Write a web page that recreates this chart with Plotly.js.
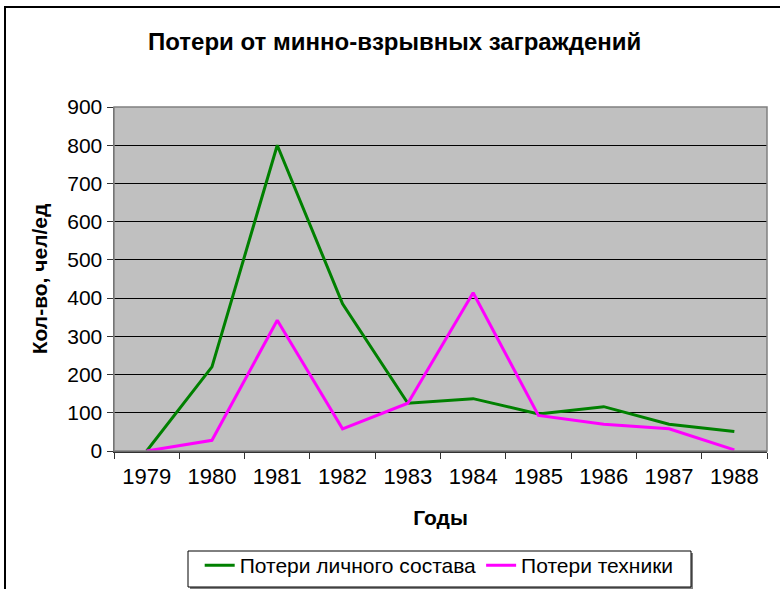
<!DOCTYPE html>
<html>
<head>
<meta charset="utf-8">
<script src="https://cdn.plot.ly/plotly-3.0.1.min.js"></script>
<style>
html,body{margin:0;padding:0;background:#fff;}
#wrap{position:relative;width:780px;height:589px;overflow:hidden;}
#chart{width:780px;height:589px;}
#frame{position:absolute;left:4px;top:6px;width:800px;height:600px;border-left:2px solid #000;border-top:2px solid #000;pointer-events:none;}
</style>
</head>
<body>
<div id="wrap"><div id="chart"></div><div id="frame"></div></div>
<script>
const years = ["1979","1980","1981","1982","1983","1984","1985","1986","1987","1988"];
const personnelLosses = [0, 220, 800, 385, 125, 137, 97, 116, 70, 51];
const equipmentLosses = [0, 28, 342, 58, 125, 414, 93, 70, 58, 3];
const seriesNames = ["Потери личного состава", "Потери техники"];

const FONT = "Liberation Sans, Arial, sans-serif";

const traces = [
  {x: years, y: personnelLosses, name: seriesNames[0], type: "scatter", mode: "lines",
   line: {color: "#008000", width: 3}},
  {x: years, y: equipmentLosses, name: seriesNames[1], type: "scatter", mode: "lines",
   line: {color: "#FF00FF", width: 3}}
];

// plot area occupies x 114..767, y 107..451 (px); legend box drawn at px 188..691 x 551..587
const PX = v => (v - 114) / 653;
const PY = v => (451 - v) / 344;

const layout = {
  width: 780, height: 589,
  margin: {l: 114, r: 13, t: 107, b: 138, autoexpand: false},
  paper_bgcolor: "#ffffff",
  plot_bgcolor: "#C0C0C0",
  font: {family: FONT, color: "#000", size: 20},
  title: {text: "<b>Потери от минно-взрывных заграждений</b>", font: {family: FONT, size: 24, color: "#000"},
          x: 0.506, xref: "container", xanchor: "center", y: 0.93, yref: "container", yanchor: "middle"},
  xaxis: {
    type: "category", range: [-0.5, 9.5], tickson: "boundaries",
    ticks: "outside", ticklen: 6, tickcolor: "#333", tickwidth: 1,
    ticklabelstandoff: 5,
    showgrid: false, showline: true, linecolor: "#333", linewidth: 1.5,
    tickfont: {family: FONT, size: 22, color: "#000"},
    title: {text: "<b>Годы</b>", font: {family: FONT, size: 21, color: "#000"}, standoff: 22},
    automargin: false, fixedrange: true
  },
  yaxis: {
    range: [0, 900], dtick: 100, tick0: 0,
    ticks: "outside", ticklen: 6, tickcolor: "#333", tickwidth: 1,
    showgrid: true, gridcolor: "#000", gridwidth: 1,
    showline: true, linecolor: "#555", linewidth: 1.5, zeroline: false,
    tickfont: {family: FONT, size: 21, color: "#000"},
    title: {text: "<b>Кол-во, чел/ед</b>", font: {family: FONT, size: 21, color: "#000"}, standoff: 14},
    automargin: false, fixedrange: true
  },
  shapes: [
    {type: "rect", xref: "paper", yref: "paper", x0: 0, x1: 1, y0: 0, y1: 1,
     line: {color: "#808080", width: 1.5}, fillcolor: "rgba(0,0,0,0)", layer: "above"},
    {type: "rect", xref: "paper", yref: "paper", x0: PX(190), x1: PX(693), y0: PY(589), y1: PY(553),
     line: {width: 0}, fillcolor: "#808080", layer: "above"},
    {type: "rect", xref: "paper", yref: "paper", x0: PX(188), x1: PX(691), y0: PY(587), y1: PY(551),
     line: {color: "#000", width: 1}, fillcolor: "#ffffff", layer: "above"}
  ],
  showlegend: true,
  legend: {
    orientation: "h", x: 0.498, xanchor: "center", y: PY(545), yanchor: "top",
    borderwidth: 0, bgcolor: "rgba(0,0,0,0)",
    font: {family: FONT, size: 21, color: "#000"},
    itemwidth: 30, traceorder: "normal", tracegroupgap: 0
  }
};

Plotly.newPlot("chart", traces, layout, {displayModeBar: false, staticPlot: true});
</script>
</body>
</html>
